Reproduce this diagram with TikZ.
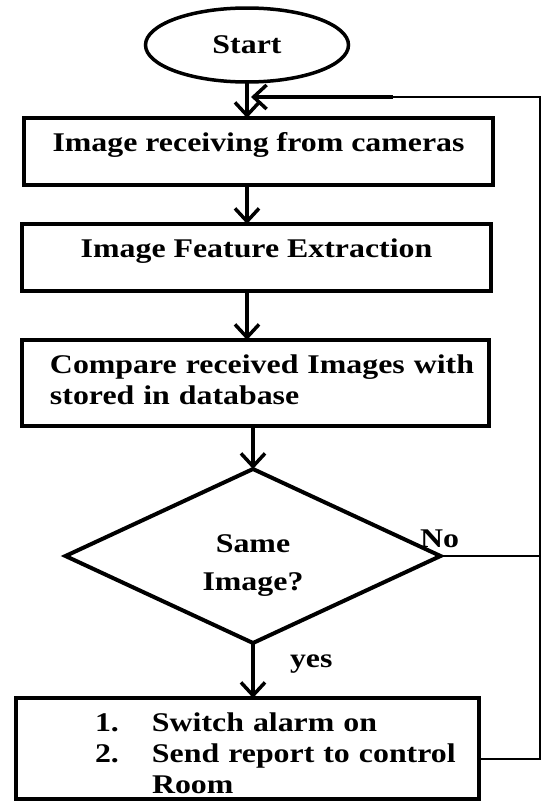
\documentclass[tikz,border=0pt]{standalone}
\usepackage{fontspec}
\setmainfont{Liberation Serif}[FakeStretch=1.18]
\usetikzlibrary{shapes.geometric,arrows.meta}
\begin{document}
\begin{tikzpicture}[x=1pt,y=-1pt]
\tikzset{ >={Straight Barb[length=13pt,width=24pt]}, inner sep=0pt, outer sep=0pt,
  txt/.style={font=\fontsize{27}{31}\selectfont\bfseries},
  stepbox/.style={draw, line width=4pt, txt, text height=33pt, anchor=base},
  flow/.style={->, line width=3.5pt},
  back/.style={line width=2pt}, }

\useasboundingbox (0,0) rectangle (542,803);

\node [draw, ellipse, line width=3.5pt, minimum width=203pt, minimum height=74pt, txt] (S) at (247,45) {Start};

\node [stepbox, minimum width=469pt, text depth=34pt] (R) at (258.5,151) {Image receiving from cameras};
\node [stepbox, minimum width=469pt, text depth=34pt] (F) at (256.5,257) {Image Feature Extraction};
\node [stepbox, text width=459pt, inner xsep=4pt, align=left, text depth=53pt] (C) at (255.5,373)
  {\hspace*{24pt}Compare received Images with\\ \hspace*{24pt}stored in database};

\node [draw, diamond, aspect=2.15, line width=4pt, minimum width=375pt, minimum height=174pt, txt, align=center,
  text height=80pt, text depth=12pt] (D) at (253,556) {Same\\[7pt]Image?};

\node [stepbox, text width=455pt, inner xsep=4pt, align=left, text depth=68pt] (A) at (247.5,731)
  {\hspace*{75pt}\makebox[57pt][l]{1.}Switch alarm on\\ \hspace*{75pt}\makebox[57pt][l]{2.}Send report to control\\ \hspace*{132pt}Room};

\node [txt, anchor=base west] (no) at (420,547) {No};
\node [txt, anchor=base west] (yes) at (290,667) {yes};

\draw [flow] (S.south) -- (S.south |- R.north);
\draw [flow] (R.south -| S) -- (F.north -| S);
\draw [flow] (F.south -| S) -- (C.north -| S);
\draw [flow] (C.south -| D) -- (D.north);
\draw [flow] (D.south) -- (A.north -| D);

\coordinate (out) at (479,759);
\coordinate (corner) at (540,759);
\coordinate (top) at (540,97);
\coordinate (mid) at (393,97);
\coordinate (join) at (251,97);

\draw [back] (out) -- (corner) -- (top) -- (mid);
\draw [back] (D.east) -- (D.east -| top);
\draw [flow] (mid) -- (join);

\end{tikzpicture}
\end{document}
